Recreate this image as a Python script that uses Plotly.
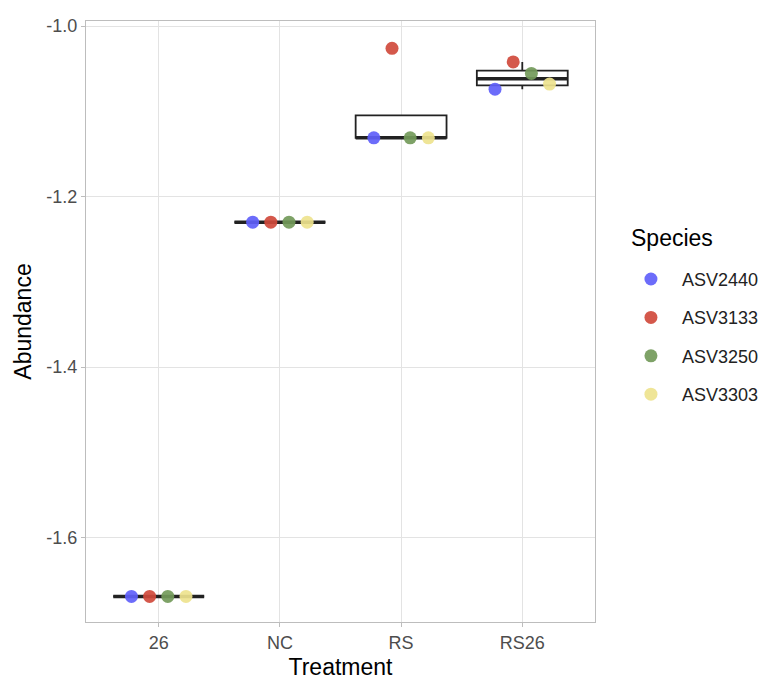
import numpy as np
import plotly.graph_objects as go

# ---- data ----
treatments = ["26", "NC", "RS", "RS26"]
species = ["ASV2440", "ASV3133", "ASV3250", "ASV3303"]
abund_ASV2440 = [-1.669, -1.230, -1.131, -1.074]
abund_ASV3133 = [-1.669, -1.230, -1.026, -1.042]
abund_ASV3250 = [-1.669, -1.230, -1.131, -1.0555]
abund_ASV3303 = [-1.669, -1.230, -1.131, -1.068]
species_colors = ["#5F5FFA", "#D04A3C", "#739A5A", "#EEE38E"]
y_ticks = [-1.6, -1.4, -1.2, -1.0]

series = [abund_ASV2440, abund_ASV3133, abund_ASV3250, abund_ASV3303]
xpos = np.arange(len(treatments))

# ---- box statistics (R type 7 quantiles, Tukey whiskers) ----
q1s, meds, q3s, lows, highs = [], [], [], [], []
for j in range(len(treatments)):
    vals = np.array([s[j] for s in series])
    q1, med, q3 = np.percentile(vals, [25, 50, 75])
    iqr = q3 - q1
    lo = vals[vals >= q1 - 1.5 * iqr].min()
    hi = vals[vals <= q3 + 1.5 * iqr].max()
    q1s.append(q1); meds.append(med); q3s.append(q3); lows.append(lo); highs.append(hi)

box_w = 0.75
fig = go.Figure()
fig.add_trace(go.Box(
    x=xpos, q1=q1s, median=meds, q3=q3s, lowerfence=lows, upperfence=highs,
    width=box_w, boxpoints=False, whiskerwidth=0,
    fillcolor="white", line=dict(color="#222222", width=1.8),
    showlegend=False, hoverinfo="skip"))

# thick median lines (ggplot fatten)
for j in range(len(treatments)):
    fig.add_trace(go.Scatter(
        x=[xpos[j] - box_w / 2, xpos[j] + box_w / 2], y=[meds[j], meds[j]],
        mode="lines", line=dict(color="#222222", width=3.6),
        showlegend=False, hoverinfo="skip"))

# dodged points
n = len(species)
dodge = 0.6
for k, (name, vals, col) in enumerate(zip(species, series, species_colors)):
    off = -dodge / 2 + dodge / n * (k + 0.5)
    fig.add_trace(go.Scatter(
        x=xpos + off, y=vals, mode="markers", name=name,
        legendgroup=name,
        marker=dict(color=col, size=13, opacity=0.92, line=dict(width=0))))

fig.add_annotation(
    text="Species", xref="paper", yref="paper", x=1.066, y=0.639,
    xanchor="left", yanchor="middle", showarrow=False,
    font=dict(size=23, color="#000000"))

fig.update_layout(
    width=767, height=681,
    margin=dict(l=78, r=180, t=8, b=67),
    paper_bgcolor="white", plot_bgcolor="white",
    font=dict(family="Liberation Sans, Arial, sans-serif", color="#000000"),
    legend=dict(
        x=1.049, xanchor="left", y=0.601, yanchor="top",
        font=dict(size=18, color="#222222"),
        tracegroupgap=12, itemwidth=52,
        bgcolor="rgba(0,0,0,0)"),
    xaxis=dict(
        range=[-0.6, 3.6], tickvals=list(xpos), ticktext=treatments,
        showgrid=True, gridcolor="#E3E3E3", gridwidth=1,
        zeroline=False, showline=True, linecolor="#BDBDBD", linewidth=1, mirror=True,
        ticks="outside", ticklen=4, tickcolor="#BDBDBD",
        tickfont=dict(size=18, color="#4D4D4D"),
        title=dict(text="Treatment", font=dict(size=23, color="#000000"), standoff=7)),
    yaxis=dict(
        range=[-1.699, -0.994], tickvals=y_ticks, ticktext=[f"{v:.1f}" for v in y_ticks],
        showgrid=True, gridcolor="#E3E3E3", gridwidth=1,
        zeroline=False, showline=True, linecolor="#BDBDBD", linewidth=1, mirror=True,
        ticks="outside", ticklen=4, tickcolor="#BDBDBD",
        tickfont=dict(size=18, color="#4D4D4D"),
        title=dict(text="Abundance", font=dict(size=23, color="#000000"), standoff=8)),
)

fig.write_html("out.html")
